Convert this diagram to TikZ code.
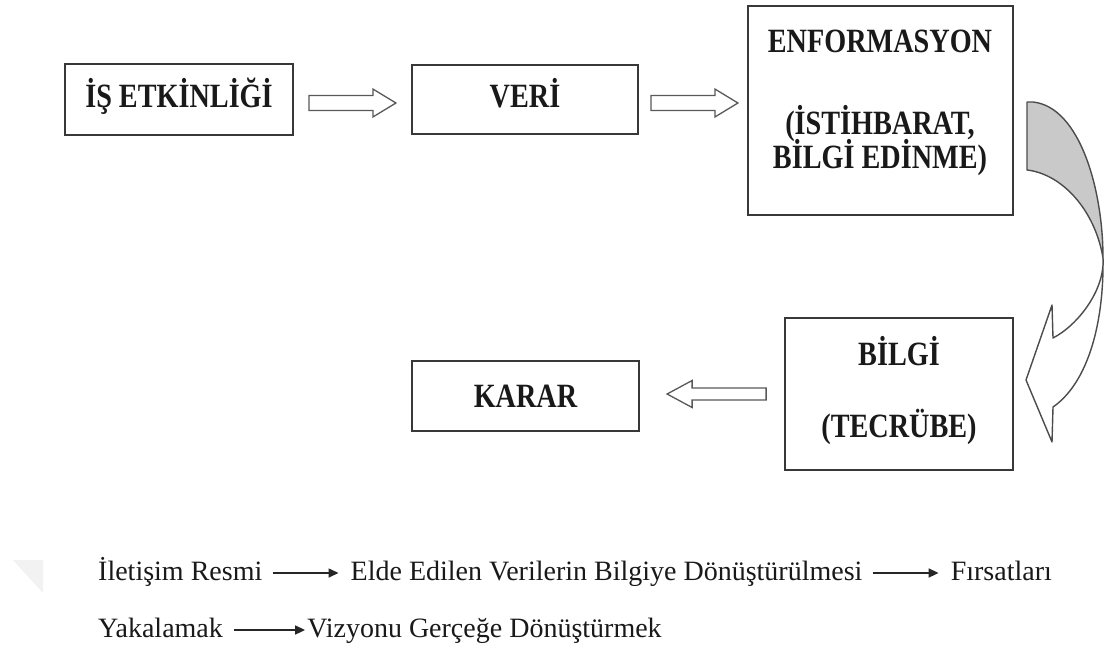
\documentclass[tikz,border=0pt]{standalone}
\usepackage{fontspec}
\setmainfont{Liberation Serif}
\newfontfamily\boxfont[FakeStretch=0.83]{Liberation Serif}
\usetikzlibrary{arrows.meta,calc}
\begin{document}
\begin{tikzpicture}[x=1pt,y=-1pt,
  box/.style={draw=black!78, line width=1.8pt, inner sep=2pt,
    font=\boxfont\bfseries\fontsize{34}{36}\selectfont, text=black!90},
  btext/.style={font=\boxfont\bfseries\fontsize{34}{36}\selectfont, text=black!90, inner sep=0pt},
  blockarrow/.style={draw=black!65, line width=1.3pt, fill=white, line join=miter},
  bt/.style={font=\fontsize{28}{30}\selectfont, text=black!90, inner sep=0pt},
  tarrow/.style={line width=1.6pt, draw=black!85, -{Triangle[length=10pt,width=9pt]}},
  curveback/.style={fill=black!21, draw=black!70, line width=1.4pt, line join=round},
  curvefront/.style={fill=white, draw=black!70, line width=1.4pt, line join=round}
]
\useasboundingbox (0,0) rectangle (1107,653);
\fill[white] (0,0) rectangle (1107,653);

% faint watermark remnant
\fill[black!5] (13,560) -- (43,560) -- (43,593) -- cycle;

% boxes
\node[box, minimum width=228pt, minimum height=71pt, text height=24pt, text depth=9pt] (A) at (179,99.5) {İŞ ETKİNLİĞİ};
\node[box, minimum width=226pt, minimum height=69pt, text height=24pt, text depth=9pt] (B) at (525,99.5) {VERİ};
\node[box, minimum width=265pt, minimum height=209pt] (C) at (880.5,110.5) {};
\node[btext, anchor=base] (c1) at (880,52) {ENFORMASYON};
\node[btext, anchor=base] (c2) at (880,134) {(İSTİHBARAT,};
\node[btext, anchor=base] (c3) at (880,168) {BİLGİ EDİNME)};
\node[box, minimum width=228pt, minimum height=152pt] (D) at (899,394) {};
\node[btext, anchor=base] (d1) at (899,365) {BİLGİ};
\node[btext, anchor=base] (d2) at (899,437) {(TECRÜBE)};
\node[box, minimum width=227pt, minimum height=70pt, text height=24pt, text depth=2pt] (E) at (525.5,396) {KARAR};

% hollow block arrows (A -> B, B -> C, D -> E)
\draw[blockarrow] ($(A.east)+(15,-4)$) -- ++(64,0) -- ++(0,-6.5) -- ++(23,14)
  -- ++(-23,14) -- ++(0,-6.5) -- ++(-64,0) -- cycle;
\draw[blockarrow] ($(B.east)+(12,-4)$) -- ++(64,0) -- ++(0,-6.5) -- ++(23,14)
  -- ++(-23,14) -- ++(0,-6.5) -- ++(-64,0) -- cycle;
\draw[blockarrow] ($(D.west)+(-18,-6)$) -- ++(-74,0) -- ++(0,-7.5) -- ++(-25,13.5)
  -- ++(25,13.5) -- ++(0,-7.5) -- ++(74,0) -- cycle;

% curved 3D arrow from C to D
\coordinate (P) at (1103,258);
\path[curveback] (1027,102) -- (1033,102) .. controls (1080,107) and (1103,190) .. (P)
  .. controls (1095,210) and (1062,174) .. (1027,170) -- cycle;
\path[curvefront] (P) .. controls (1105,290) and (1078,325) .. (1053,338)
  -- (1052,305) -- (1026,380) -- (1052,442) -- (1053,407)
  .. controls (1085,385) and (1104,330) .. (P) -- cycle;

% bottom text
\node[bt, anchor=base west] (t1) at (98,580) {İletişim Resmi};
\node[bt, anchor=base west] (t2) at ([xshift=88pt]t1.base east) {Elde Edilen Verilerin Bilgiye Dönüştürülmesi};
\node[bt, anchor=base west] (t3) at ([xshift=88pt]t2.base east) {Fırsatları};
\draw[tarrow] ([xshift=10pt,yshift=7pt]t1.base east) -- ([xshift=-12pt,yshift=7pt]t2.base west);
\draw[tarrow] ([xshift=10pt,yshift=7pt]t2.base east) -- ([xshift=-12pt,yshift=7pt]t3.base west);

\node[bt, anchor=base west] (t4) at (98,637) {Yakalamak};
\node[bt, anchor=base west] (t5) at ([xshift=84pt]t4.base east) {Vizyonu Gerçeğe Dönüştürmek};
\draw[tarrow] ([xshift=11pt,yshift=7pt]t4.base east) -- ([xshift=-2pt,yshift=7pt]t5.base west);
\end{tikzpicture}
\end{document}
